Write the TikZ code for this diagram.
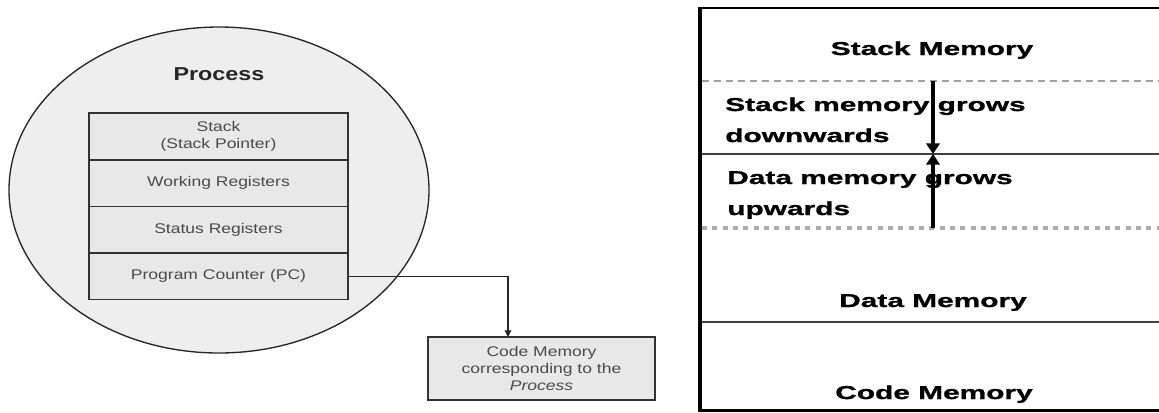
\documentclass[tikz,border=0pt]{standalone}
\usepackage{fontspec}
\setmainfont[FakeStretch=1.25]{Liberation Sans}
\newfontfamily\memfont[FakeStretch=1.6, FakeBold=1.2]{Liberation Sans Bold}
\usetikzlibrary{arrows.meta, positioning, shapes.geometric}
\definecolor{boxgray}{HTML}{E8E8E8}
\definecolor{ovalgray}{HTML}{EEEEEE}
\definecolor{inkgray}{HTML}{4A4A4A}
\tikzset{
  oval/.style = {ellipse, draw=black!85, fill=ovalgray, line width=1pt,
    minimum width=315pt, minimum height=244.5pt, inner sep=0pt},
  regbox/.style = {draw=black!80, fill=boxgray, line width=1.2pt,
    minimum width=194.25pt, minimum height=34.9pt, inner sep=0pt,
    outer sep=0pt, align=center, text=inkgray,
    font=\fontsize{10.5}{12.75}\selectfont},
  codebox/.style = {regbox, minimum width=170.25pt, minimum height=47.25pt},
  memtext/.style = {inner sep=0pt,
    font=\memfont\fontsize{14}{16}\selectfont},
  link/.style = {-{Triangle[width=5pt,length=5pt]}, draw=black!85,
    line width=0.9pt},
  growarrow/.style = {-{Triangle[width=10pt,length=8pt]}, line width=2.6pt},
  split/.style = {draw=black!75, line width=1.3pt}
}

\begin{document}
\begin{tikzpicture}[x=0.75pt, y=-0.75pt]
\useasboundingbox (0,0) rectangle (1159,412);
% process with its registers
\node (proc) [oval] at (219,190) {};
\node (title) [anchor=base, text=black!85,
  font=\bfseries\fontsize{14}{16}\selectfont] at (219,80) {Process};
\node (stack) [regbox] at (218.5,136.5) {Stack\\(Stack Pointer)};
\node (work) [regbox, below=0pt of stack] {Working Registers};
\node (status) [regbox, below=0pt of work] {Status Registers};
\node (pc) [regbox, below=0pt of status] {Program Counter (PC)};
\node (code) [codebox] at (541.5,368.5)
  {Code Memory\\corresponding to the\\\textit{Process}};
\coordinate (drop) at (508,337);
\draw [link] (pc.east) -| (drop);

% memory map
\draw [line width=3.6pt] (700,412) -- (700,8);
\draw [line width=2.2pt] (698,8) -- (1159,8);
\draw [line width=1.6pt] (698,410.5) -- (1159,410.5);
\draw [split, draw=gray!75, dash pattern=on 5.25pt off 3.75pt,
  line width=1.6pt] (702,81) -- (1159,81);
\draw [split] (702,154) -- (1159,154);
\draw [draw=gray!65, dash pattern=on 3.75pt off 4pt, line width=3pt]
  (702,228) -- (1159,228);
\draw [split] (702,322) -- (1159,322);
\node (stackmem) [memtext, anchor=base] at (932,55) {Stack Memory};
\node (sgrow) [memtext, anchor=base west] at (725,111) {Stack memory grows};
\node (sdown) [memtext, anchor=base west] at (725,142) {downwards};
\node (dgrow) [memtext, anchor=base west] at (727,184) {Data memory grows};
\node (dup) [memtext, anchor=base west] at (727,215) {upwards};
\node (datamem) [memtext, anchor=base] at (933,307) {Data Memory};
\node (codemem) [memtext, anchor=base] at (934,399) {Code Memory};
\coordinate (stacktop) at (933,81);
\coordinate (meet) at (933,154);
\coordinate (datatop) at (933,228);
\draw [growarrow] (stacktop) -- (meet);
\draw [growarrow] (datatop) -- (meet);
\end{tikzpicture}
\end{document}
